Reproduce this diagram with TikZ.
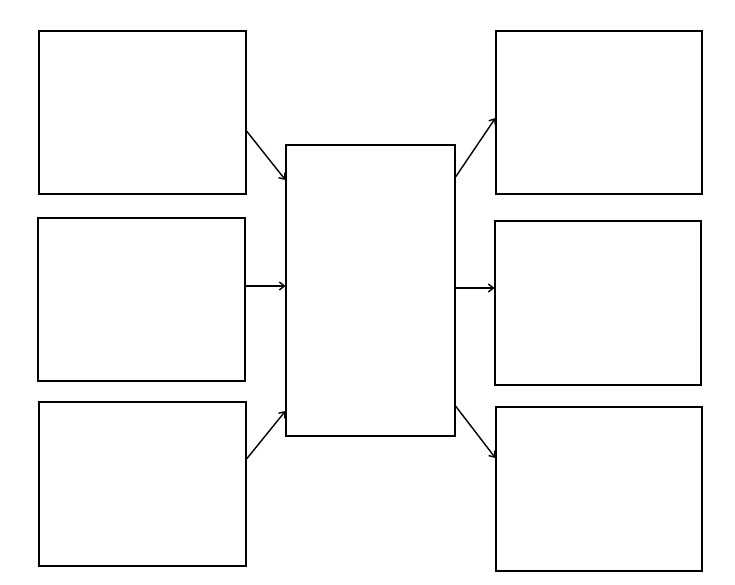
\documentclass[tikz,border=0pt]{standalone}
\usetikzlibrary{arrows.meta}
\begin{document}
\begin{tikzpicture}[x=1pt,y=-1pt,
  box/.style={draw,line width=1.1pt,inner sep=0pt},
  conn/.style={draw,-{Straight Barb[length=5pt,width=8pt]}}]
\useasboundingbox (0,0) rectangle (735,584);
\node[box,minimum width=207pt,minimum height=163pt] (L1) at (142.5,112.5) {};
\node[box,minimum width=207pt,minimum height=163pt] (L2) at (141.5,299.5) {};
\node[box,minimum width=207pt,minimum height=164pt] (L3) at (142.5,484) {};
\node[box,minimum width=169pt,minimum height=291pt] (C) at (370.5,290.5) {};
\node[box,minimum width=206pt,minimum height=163pt] (R1) at (599,112.5) {};
\node[box,minimum width=206pt,minimum height=164pt] (R2) at (598,303) {};
\node[box,minimum width=206pt,minimum height=164pt] (R3) at (599,489) {};
\begin{scope}[line width=1.4pt]
\draw[conn] ([yshift=-18.5pt]L1.east) -- ([yshift=110.5pt]C.west);
\draw[conn] ([yshift=13.5pt]L2.east) -- ([yshift=4.5pt]C.west);
\draw[conn] ([yshift=25pt]L3.east) -- ([yshift=-120.5pt]C.west);
\draw[conn] ([yshift=113.5pt]C.east) -- ([yshift=-5.5pt]R1.west);
\draw[conn] ([yshift=2.5pt]C.east) -- ([yshift=15pt]R2.west);
\draw[conn] ([yshift=-115.5pt]C.east) -- ([yshift=31pt]R3.west);
\end{scope}
\end{tikzpicture}
\end{document}
